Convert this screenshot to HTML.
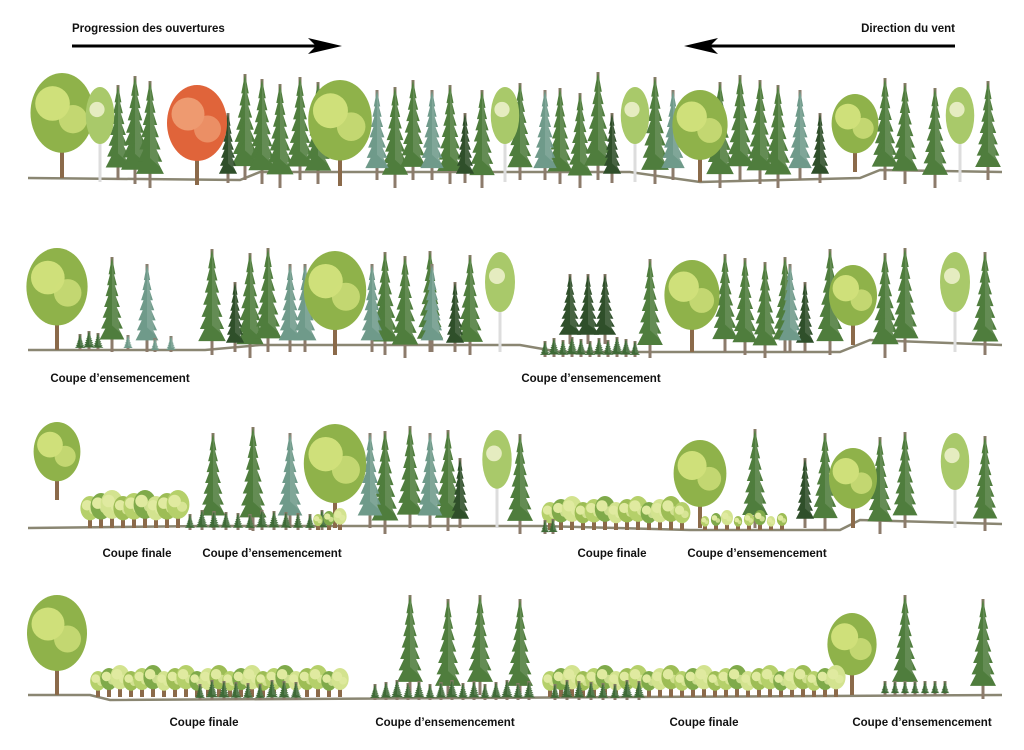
<!DOCTYPE html>
<html><head><meta charset="utf-8"><style>
html,body{margin:0;padding:0;background:#fff;width:1024px;height:750px;overflow:hidden}
svg{display:block}
text{font-family:"Liberation Sans",Arial,sans-serif;font-weight:bold;font-size:11.5px;fill:#111}
</style></head><body>
<svg id="s" width="1024" height="750" viewBox="0 0 1024 750" xmlns="http://www.w3.org/2000/svg">
<rect width="1024" height="750" fill="#fff"/>
<g id="g"></g>
<text x="72" y="32">Progression des ouvertures</text>
<line x1="72" y1="46" x2="318" y2="46" stroke="#000" stroke-width="3"/>
<polygon points="308,38 342,46 308,54 316,46" fill="#000"/>
<text x="955" y="32" text-anchor="end">Direction du vent</text>
<line x1="955" y1="46" x2="708" y2="46" stroke="#000" stroke-width="3"/>
<polygon points="718,38 684,46 718,54 710,46" fill="#000"/>
<text x="120" y="382" text-anchor="middle">Coupe d’ensemencement</text>
<text x="591" y="382" text-anchor="middle">Coupe d’ensemencement</text>
<text x="137" y="557" text-anchor="middle">Coupe finale</text>
<text x="272" y="557" text-anchor="middle">Coupe d’ensemencement</text>
<text x="612" y="557" text-anchor="middle">Coupe finale</text>
<text x="757" y="557" text-anchor="middle">Coupe d’ensemencement</text>
<text x="204" y="726" text-anchor="middle">Coupe finale</text>
<text x="445" y="726" text-anchor="middle">Coupe d’ensemencement</text>
<text x="704" y="726" text-anchor="middle">Coupe finale</text>
<text x="922" y="726" text-anchor="middle">Coupe d’ensemencement</text>
</svg>
<script>
var G=document.getElementById('g'),out='';
function con(x,b,h,c,wf){c=c||'#4f7d3d';wf=wf||0.11;var t=b-h;
out+='<rect x="'+(x-1.5)+'" y="'+t+'" width="3" height="'+h+'" fill="#8c7b6b"/>';
var fh=h*0.8,n=7;for(var i=0;i<n;i++){var y0=t+fh*i/n*0.9,y1=t+fh*(i+1.6)/n;var w=h*0.02+h*wf*(i+1)/n;
out+='<polygon points="'+x+','+y0+' '+(x-w)+','+y1+' '+(x+w)+','+y1+'" fill="'+c+'"/>';}
out+='<polygon points="'+x+','+t+' '+(x+h*wf*0.8)+','+(t+fh)+' '+x+','+(t+fh*0.9)+'" fill="rgba(255,255,255,0.12)"/>';}
function dec(x,b,h,c1,c2){c1=c1||'#8fb24a';c2=c2||'#cfe07a';var t=b-h,cy=t+h*0.38,r=h*0.3;
out+='<rect x="'+(x-2)+'" y="'+cy+'" width="4" height="'+(b-cy)+'" fill="#8b6a4a"/>';
out+='<ellipse cx="'+x+'" cy="'+cy+'" rx="'+r+'" ry="'+(h*0.38)+'" fill="'+c1+'"/>';
out+='<circle cx="'+(x-r*0.3)+'" cy="'+(cy-r*0.3)+'" r="'+(r*0.55)+'" fill="'+c2+'"/>';
out+='<circle cx="'+(x+r*0.35)+'" cy="'+(cy+r*0.2)+'" r="'+(r*0.45)+'" fill="'+c2+'" opacity="0.8"/>';}
function bir(x,b,h){var t=b-h,cy=t+h*0.3;
out+='<rect x="'+(x-1.5)+'" y="'+cy+'" width="3" height="'+(b-cy)+'" fill="#ddd"/>';
out+='<ellipse cx="'+x+'" cy="'+cy+'" rx="'+(h*0.15)+'" ry="'+(h*0.3)+'" fill="#a9c96a"/>';
out+='<circle cx="'+(x-3)+'" cy="'+(cy-6)+'" r="'+(h*0.08)+'" fill="#e5ecc0"/>';}
function reg(x0,x1,b,h){var cs=['#b5d06a','#7faa4a','#d3e38f','#9dbd55'],k=0;for(var x=x0;x<=x1;x+=11){dec(x,b,h+(k%3)*3,cs[k%4],'#e0eaa0');k++;}}
function sd(x0,x1,b,h,st,c){for(var x=x0;x<=x1;x+=st)con(x,b,h+((x*7)%5),c||'#3e6a36',0.3);}
function ground(p){out+='<polyline points="'+p+'" fill="none" stroke="#8a8672" stroke-width="2.5"/>';}
// row1
ground('28,178 240,180 260,172 630,172 700,182 860,178 880,170 1002,172');
var b=180;
[118,135,150,245,262,280,300,318,395,413,450,482,520,560,580,598,655,720,740,760,778,885,905,935,988].forEach(function(x,i){con(x,b+(i%3)*4,95+(i*13)%14);});
[228,465,612,820].forEach(function(x){con(x,b+3,70,'#2f4f2a');});
[377,432,545,673,800].forEach(function(x){con(x,b,90,'#6f9a8a');});
dec(62,178,105);dec(340,186,106);dec(700,182,92);dec(855,172,78);
dec(197,185,100,'#e0643a','#ee9a70');
[100,505,635,960].forEach(function(x){bir(x,182,95);});
// row2
ground('28,350 205,350 260,345 520,345 560,352 840,352 870,340 1002,345');
b=352;
[112,212,250,268,385,405,430,470,650,725,745,765,785,830,885,905,985].forEach(function(x,i){con(x,b+(i%3)*3,95+(i*11)%12);});
[235,455,805].forEach(function(x){con(x,b,70,'#2f4f2a');});
[570,588,605].forEach(function(x){con(x,b-8,70,'#2f4f2a',0.14);});
[147,290,305,372,432,790].forEach(function(x){con(x,b,88,'#6f9a8a');});
dec(57,350,102);dec(335,355,104);dec(692,352,92);dec(853,345,80);
[500,955].forEach(function(x){bir(x,352,100);});
sd(80,100,350,16,9);sd(128,128,350,14,9,'#6f9a8a');sd(155,175,352,14,16,'#6f9a8a');sd(545,640,357,16,9);
// row3
ground('28,528 205,526 540,526 690,530 840,530 860,520 1002,524');
b=528;
[213,253,385,410,448,520,755,825,880,905,985].forEach(function(x,i){con(x,b+(i%3)*3,95+(i*9)%10);});
[460,805].forEach(function(x){con(x,b,70,'#2f4f2a');});
[290,370,430].forEach(function(x){con(x,b,95,'#6f9a8a');});
dec(57,500,78);dec(335,528,104);dec(700,528,88);dec(853,528,80);bir(497,528,98);bir(955,528,95);
reg(90,180,528,32);sd(190,330,530,16,12);reg(318,345,530,16);
reg(550,690,530,28);sd(545,560,534,14,8);reg(705,790,530,14);
// row4
ground('28,695 90,695 110,700 1002,695');
b=697;
[410,448,480,520,905,983].forEach(function(x,i){con(x,b-2+(i%2)*4,100);});
dec(57,695,100);dec(852,695,82);
reg(98,350,697,26);sd(200,300,700,16,12);reg(550,845,697,26);sd(555,650,700,16,12);
sd(375,530,700,16,11);sd(885,945,695,14,10);
G.innerHTML=out;
</script>
</body></html>
